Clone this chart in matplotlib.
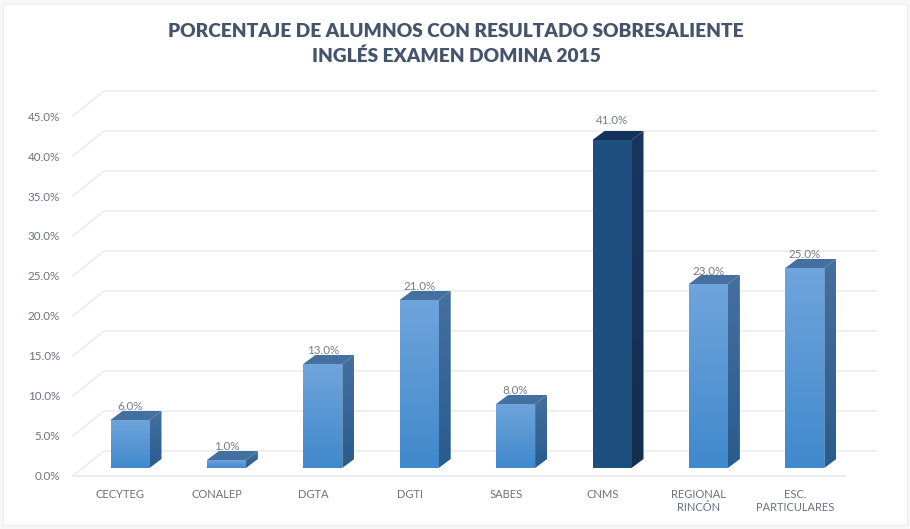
import numpy as np
import matplotlib
matplotlib.use("Agg")
import matplotlib.pyplot as plt
from matplotlib.patches import Polygon, Rectangle

plt.rcParams['font.family'] = ['Lato', 'DejaVu Sans']

categories = ["CECYTEG", "CONALEP", "DGTA", "DGTI", "SABES", "CNMS", "REGIONAL\nRINCÓN", "ESC.\nPARTICULARES"]
values = [6.0, 1.0, 13.0, 21.0, 8.0, 41.0, 23.0, 25.0]
ticks = [0, 5, 10, 15, 20, 25, 30, 35, 40, 45]
title = "PORCENTAJE DE ALUMNOS CON RESULTADO SOBRESALIENTE\nINGLÉS EXAMEN DOMINA 2015"

W, H = 910, 529
step = 96.4     # px per category
unit = 8.0      # px per percent
x0_px, floor_px, right_px, top_px = 73, 476, 877, 85
bar_w = 39 / step
lift = 1.0      # bars stand a bit behind the front of the floor
depth_x, depth_y = 12 / step, 9 / unit
wall_x, wall_y = 31 / step, 25 / unit

fig = plt.figure(figsize=(W / 100, H / 100), dpi=100, facecolor="#f7f7f7")
fig.patches.append(Rectangle((3 / W, 4 / H), 904 / W, 521 / H, transform=fig.transFigure,
                             facecolor="white", edgecolor="#eeeeee", lw=1, zorder=-1))
ax = fig.add_axes([x0_px / W, (H - floor_px) / H, (right_px - x0_px) / W, (floor_px - top_px) / H])
ax.patch.set_visible(False)
for s in ax.spines.values():
    s.set_visible(False)

x = np.arange(len(categories))
xmin = (x0_px - 130) / step
xmax = (right_px - 130) / step
ax.set_xlim(xmin, xmax)
ax.set_ylim(0, (floor_px - top_px) / unit)

# back wall grid, slanted side wall, floor
grid_c = "#e9ebee"
for t in ticks:
    ax.plot([xmin, xmin + wall_x, xmax], [t, t + wall_y, t + wall_y], color=grid_c, lw=1.1, zorder=1, clip_on=False)
ax.plot([xmin, xmax - wall_x], [0, 0], color=grid_c, lw=1.4, zorder=1, clip_on=False)


def gradient(patch, c_top, c_bot, extent):
    g = np.linspace(0, 1, 64)[:, None, None]
    a = np.array(matplotlib.colors.to_rgb(c_top))[None, None, :]
    b = np.array(matplotlib.colors.to_rgb(c_bot))[None, None, :]
    im = ax.imshow(a * (1 - g) + b * g, extent=extent, origin="upper", aspect="auto", zorder=patch.get_zorder())
    im.set_clip_path(patch)


for i, v in zip(x, values):
    l, r = i - bar_w / 2, i + bar_w / 2
    b, t = lift, lift + v
    dark = categories[i] == "CNMS"
    side = Polygon([(r, b), (r + depth_x, b + depth_y), (r + depth_x, t + depth_y), (r, t)],
                   facecolor="none", edgecolor="none", zorder=3)
    ax.add_patch(side)
    if dark:
        gradient(side, "#17375e", "#132f50", (r, r + depth_x, b, t + depth_y))
    else:
        gradient(side, "#44709f", "#285c8e", (r, r + depth_x, b, t + depth_y))
    ax.add_patch(Polygon([(l, t), (r, t), (r + depth_x, t + depth_y), (l + depth_x, t + depth_y)],
                         facecolor="#14325a" if dark else "#44709f", edgecolor="none", zorder=3))
    front = ax.bar(i, v, bottom=lift, width=bar_w, color="none", edgecolor="none", zorder=4)[0]
    if dark:
        gradient(front, "#1d4f7f", "#1c4e7e", (l, r, b, t))
    else:
        gradient(front, "#6fa4dc", "#4089cc", (l, r, b, t))
    pad = 20 if dark else 13
    ax.annotate("%.1f%%" % v, (i, t), xytext=(0, pad * 0.72), textcoords="offset points",
                ha="center", va="center", fontsize=8.4, color="#767b84", zorder=6)

ax.set_xlim(xmin, xmax)
ax.set_ylim(0, (floor_px - top_px) / unit)

ax.set_yticks(ticks)
ax.set_yticklabels(["%.1f%%" % t for t in ticks], fontsize=8.4, color="#6a7280")
ax.set_xticks(x - 0.1)
ax.set_xticklabels(categories, fontsize=8, color="#6a7280", linespacing=1.3)
ax.tick_params(axis="y", length=0, pad=9.5)
ax.tick_params(axis="x", length=0, pad=9)

fig.text(456 / W, 1 - 44 / H, title, ha="center", va="center", fontsize=13.75, fontweight="heavy",
         color="#44546a", linespacing=1.55)

fig.savefig("out.png", dpi=100, facecolor=fig.get_facecolor())
